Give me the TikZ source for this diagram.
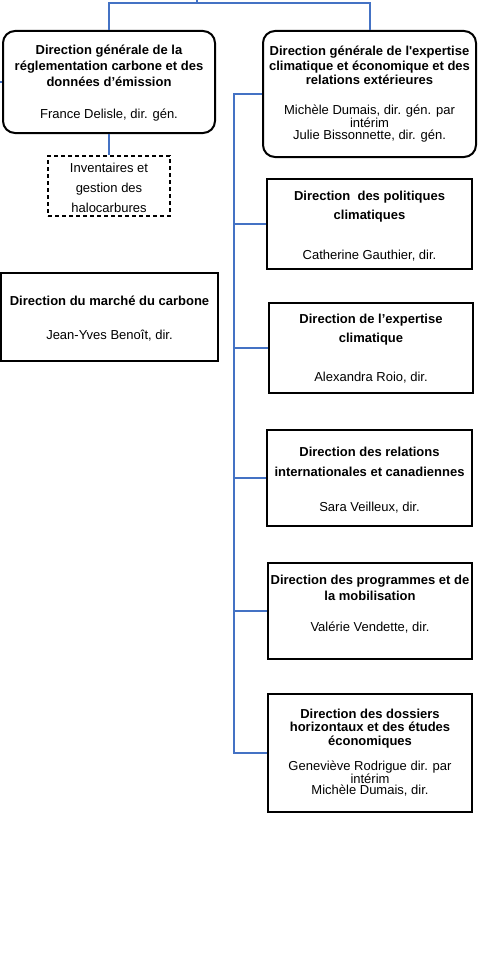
\documentclass[tikz,border=0pt]{standalone}
\usepackage{fontspec}
\setmainfont{Liberation Sans}
\definecolor{lineblue}{HTML}{4472C4}
\begin{document}
\begin{tikzpicture}[x=1pt,y=1pt,
  conn/.style={draw=lineblue, line width=2pt},
  rbox/.style={draw=black, line width=2pt, rounded corners=12pt, inner sep=0pt},
  sbox/.style={draw=black, line width=2pt, inner sep=0pt},
  dbox/.style={draw=black, line width=1.5pt, dash pattern=on 4pt off 3pt, inner sep=0pt},
  ttl/.style={font=\fontsize{13}{#1}\selectfont\bfseries, align=center, inner sep=0pt},
  nm/.style={font=\fontsize{13}{#1}\selectfont, align=center, inner sep=0pt},
]
\useasboundingbox (0,0) rectangle (498,-979);

% boxes
\node[rbox, minimum width=212pt, minimum height=102pt] (b1) at (109,-82) {};
\node[dbox, minimum width=122pt, minimum height=60pt] (inv) at (109,-186) {};
\node[rbox, minimum width=213pt, minimum height=126pt] (b2) at (369.5,-94) {};
\node[sbox, minimum width=205pt, minimum height=90pt] (b3) at (369.5,-224) {};
\node[sbox, minimum width=204pt, minimum height=90pt] (b4) at (371,-348) {};
\node[sbox, minimum width=205pt, minimum height=96pt] (b5) at (369.5,-478) {};
\node[sbox, minimum width=204pt, minimum height=96pt] (b6) at (370,-611) {};
\node[sbox, minimum width=204pt, minimum height=118pt] (b7) at (370,-753) {};
\node[sbox, minimum width=217pt, minimum height=88pt] (bm) at (109.5,-317) {};

% texts
\node[ttl=16pt] (t1) at (109,-66) {Direction générale de la\\réglementation carbone et des\\données d’émission};
\node[nm=15pt] (n1) at (109,-115) {France Delisle, dir. gén.};
\node[nm=20pt] (tinv) at (109,-188) {Inventaires et\\gestion des\\halocarbures};
\node[ttl=14.5pt] (t2) at (369.5,-65.5) {Direction générale de l\textquotesingle expertise\\climatique et économique et des\\relations extérieures};
\node[nm=11.5pt] (n2) at (369.5,-123.5) {Michèle Dumais, dir. gén. par\\intérim\\Julie Bissonnette, dir. gén.};
\node[ttl=19pt] (t3) at (369.5,-206.5) {Direction~ des politiques\\climatiques};
\node[nm=15pt] (n3) at (369.5,-256) {Catherine Gauthier, dir.};
\node[ttl=19pt] (t4) at (371,-329.5) {Direction de l’expertise\\climatique};
\node[nm=15pt] (n4) at (371,-378) {Alexandra Roio, dir.};
\node[ttl=20pt] (t5) at (369.5,-462) {Direction des relations\\internationales et canadiennes};
\node[nm=15pt] (n5) at (369.5,-508) {Sara Veilleux, dir.};
\node[ttl=16pt] (t6) at (370,-588) {Direction des programmes et de\\la mobilisation};
\node[nm=15pt] (n6) at (370,-628) {Valérie Vendette, dir.};
\node[ttl=13.5pt] (t7) at (370,-728.5) {Direction des dossiers\\horizontaux et des études\\économiques};
\node[nm=11.5pt] (n7) at (370,-778.5) {Geneviève Rodrigue dir. par\\intérim\\Michèle Dumais, dir.};
\node[ttl=15pt] (tm) at (109.5,-301) {Direction du marché du carbone};
\node[nm=15pt] (nm1) at (109.5,-336) {Jean-Yves Benoît, dir.};

% connectors
\coordinate (root) at (197,0);
\coordinate (lstub) at (0,-82);
\draw[conn] (root) -- ++(0,-3) -| (b1.north);
\draw[conn] (root) -- ++(0,-3) -| (b2.north);
\draw[conn] (lstub) -- (b1.west);
\draw[conn] (b1.south) -- (inv.north);
\draw[conn] (b2.west) -- ++(-28,0) coordinate (s0) |- (b7.west);
\draw[conn] (s0 |- b3.west) -- (b3.west);
\draw[conn] (s0 |- b4.west) -- (b4.west);
\draw[conn] (s0 |- b5.west) -- (b5.west);
\draw[conn] (s0 |- b6.west) -- (b6.west);
\end{tikzpicture}
\end{document}
